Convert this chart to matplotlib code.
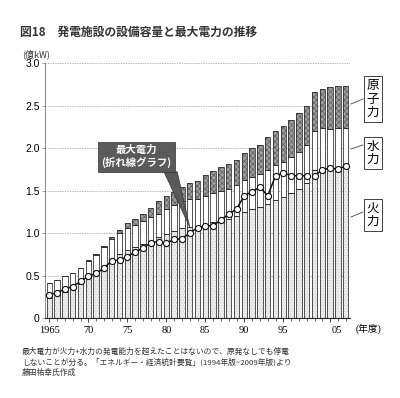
import matplotlib
matplotlib.use('Agg')
import matplotlib.pyplot as plt
import numpy as np
from matplotlib.lines import Line2D
from matplotlib.patches import Polygon
import matplotlib.transforms as mtransforms

plt.rcParams['font.family'] = ['Noto Sans CJK JP', 'DejaVu Sans']
plt.rcParams['hatch.linewidth'] = 0.5

# ---------------- data (億kW) ----------------
years = list(range(1965, 1999)) + list(range(2003, 2008))
thermal = [0.24, 0.27, 0.31, 0.34, 0.40, 0.47, 0.527, 0.612, 0.697, 0.756,
           0.804, 0.831, 0.87, 0.905, 0.949, 0.99, 1.024, 1.063, 1.075, 1.076,
           1.11, 1.13, 1.15, 1.17, 1.20, 1.252, 1.281, 1.31, 1.341, 1.385,
           1.42, 1.47, 1.515, 1.589,
           1.74, 1.765, 1.755, 1.765, 1.765]
hydro = [0.17, 0.18, 0.18, 0.19, 0.19, 0.20, 0.21, 0.22, 0.23, 0.24,
         0.25, 0.26, 0.27, 0.28, 0.28, 0.29, 0.30, 0.31, 0.32, 0.32,
         0.33, 0.34, 0.35, 0.35, 0.36, 0.37, 0.38, 0.39, 0.40, 0.41,
         0.42, 0.43, 0.44, 0.45,
         0.46, 0.465, 0.47, 0.47, 0.47]
nuclear = [0.0, 0.0, 0.0, 0.0, 0.0, 0.01, 0.013, 0.018, 0.023, 0.039,
           0.066, 0.074, 0.08, 0.115, 0.147, 0.155, 0.162, 0.172, 0.19, 0.22,
           0.24, 0.26, 0.28, 0.29, 0.30, 0.315, 0.335, 0.34, 0.385, 0.405,
           0.42, 0.43, 0.455, 0.455,
           0.46, 0.47, 0.495, 0.495, 0.495]
peak = [0.27, 0.30, 0.34, 0.37, 0.43, 0.49, 0.525, 0.585, 0.675, 0.68,
        0.72, 0.78, 0.82, 0.886, 0.898, 0.879, 0.925, 0.93, 1.0, 1.063,
        1.086, 1.086, 1.153, 1.22, 1.282, 1.439, 1.486, 1.538, 1.439, 1.671,
        1.709, 1.674, 1.674, 1.674,
        1.674, 1.741, 1.768, 1.749, 1.788]
xtick_years = [1965, 1970, 1975, 1980, 1985, 1990, 1995, 2005]
xtick_labels = ['1965', '70', '75', '80', '85', '90', '95', '05']
ytick_values = [0, 0.5, 1.0, 1.5, 2.0, 2.5, 3.0]
ytick_labels = ['0', '0.5', '1.0', '1.5', '2.0', '2.5', '3.0']
series_names = ['原\n子\n力', '水\n力', '火\n力']

# ---------------- figure ----------------
fig = plt.figure(figsize=(4.0, 3.98), dpi=100)
ax = fig.add_axes([0.1135, 0.201, 0.7605, 0.6407])

x = np.arange(len(years))
th = np.array(thermal)
hy = np.array(hydro)
nu = np.array(nuclear)
w = 0.68

# fills
ax.bar(x, th, width=w, color='#eeeeee', hatch='......', edgecolor='#c8c8c8', lw=0, zorder=2)
ax.bar(x, hy, width=w, bottom=th, color='white', lw=0, zorder=2)
ax.bar(x, nu, width=w, bottom=th + hy, color='#9e9e9e', hatch='xxxxxx', edgecolor='#5e5e5e', lw=0, zorder=2)
# outlines
for h, b in [(th, 0), (hy, th), (nu, th + hy)]:
    ax.bar(x, h, width=w, bottom=b, fill=False, edgecolor='#262626', lw=0.55, zorder=3)

# peak demand line, broken where years are not consecutive
yrs = np.array(years)
breaks = list(np.where(np.diff(yrs) > 1)[0] + 1)
starts = [0] + breaks
ends = breaks + [len(years)]
pk = np.array(peak)
for s, e in zip(starts, ends):
    ax.plot(x[s:e], pk[s:e], '-o', color='#111111', lw=1.1, mfc='white', mec='#111111',
            ms=4.4, mew=0.8, zorder=5)

# axes styling
ax.set_xlim(-0.5, len(years) - 0.5)
ax.set_ylim(0, 3.0)
ax.set_yticks(ytick_values)
ax.set_yticklabels(ytick_labels, family='Liberation Sans', fontsize=7.5)
ax.yaxis.grid(True, ls=(0, (2, 1.5)), color='#9a9a9a', lw=0.5)
ax.set_axisbelow(True)
for s in ['top', 'right']:
    ax.spines[s].set_visible(False)
ax.spines['left'].set_color('#777777')
ax.spines['left'].set_linewidth(0.6)
ax.spines['bottom'].set_color('#222222')
ax.spines['bottom'].set_linewidth(0.8)
ax.tick_params(axis='y', length=2, width=0.5, color='#777777', pad=2)

xt = [years.index(yv) for yv in xtick_years]
ax.set_xticks(xt)
ax.set_xticklabels(xtick_labels, family='Liberation Serif', fontsize=7.5)
ax.set_xticks(x, minor=True)
ax.tick_params(axis='x', which='major', length=3, width=0.5, pad=3)
ax.tick_params(axis='x', which='minor', length=2, width=0.4)
lbl = ax.get_xticklabels()[-1]
lbl.set_transform(lbl.get_transform() + mtransforms.ScaledTranslation(7 / 100, 0, fig.dpi_scale_trans))

def fx(px):
    return px / 400.0

def fy(py):
    return 1 - py / 398.0

fig.text(fx(368), fy(329), '(年度)', family=['Liberation Serif', 'Noto Sans CJK JP'],
         fontsize=7, ha='center', va='center')
fig.text(fx(22), fy(54), '(億kW)', fontsize=6.5, ha='left', va='center', color='#333333')

# title
fig.text(fx(20), fy(32), '図18　発電施設の設備容量と最大電力の推移', fontsize=8.5,
         fontweight='bold', ha='left', va='center', color='#333333')

# notes
notes = ['最大電力が火力+水力の発電能力を超えたことはないので、原発なしでも停電',
         'しないことが分る。「エネルギー・経済統計要覧」(1994年版~2009年版)より',
         '藤田祐幸氏作成']
for i, t in enumerate(notes):
    fig.text(fx(22), fy(351.5 + i * 10.5), t, fontsize=5.6, ha='left', va='center', color='#333333')

# right-side labels
label_pos = [(373, 99), (373, 153), (373, 215)]
leader = [((351, 104), (363, 99)), ((351, 149), (363, 145)), ((351, 217), (363, 212))]
for name, (px, py), ((x0, y0), (x1, y1)) in zip(series_names, label_pos, leader):
    fig.text(fx(px), fy(py), name, fontsize=9, ha='center', va='center', linespacing=1.05,
             bbox=dict(boxstyle='square,pad=0.25', fc='white', ec='#222222', lw=0.6))
    fig.add_artist(Line2D([fx(x0), fx(x1)], [fy(y0), fy(y1)], transform=fig.transFigure,
                          color='#444444', lw=0.6))

# callout for the line
i83 = years.index(1983)
tip = (x[i83], pk[i83] + 0.07)
poly = Polygon([(i83 - 3.3, 1.72), (i83 - 1.6, 1.72), tip], closed=True,
               fc='#5a5a5a', ec='#333333', lw=0.5, zorder=6)
ax.add_patch(poly)
ax.text(i83 - 6.8, 1.90, '最大電力\n(折れ線グラフ)', fontsize=7.5, color='white',
        ha='center', va='center', linespacing=1.25, zorder=7, fontweight='bold',
        bbox=dict(boxstyle='square,pad=0.3', fc='#5a5a5a', ec='#333333', lw=0.5))

fig.savefig('out.png', dpi=100)
